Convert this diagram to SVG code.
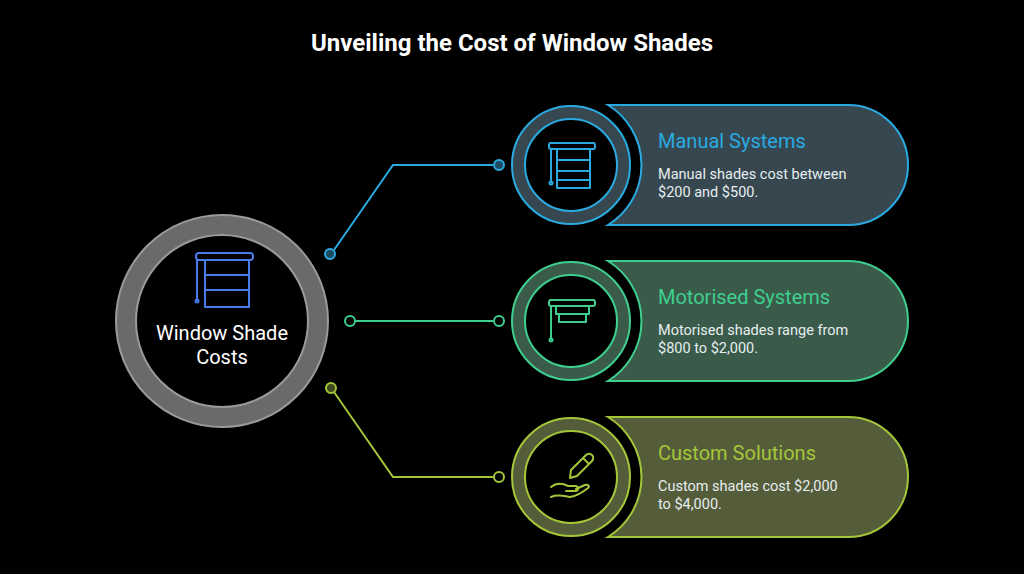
<svg xmlns="http://www.w3.org/2000/svg" width="1024" height="574" viewBox="0 0 1024 574">
<style>
text{font-family:Roboto,"Liberation Sans",sans-serif}
.h{font-size:20px}
.b{font-size:14.5px;fill:#e6eef0}
.ic{fill:none;stroke-width:2;stroke-linecap:round;stroke-linejoin:round}
.c{fill:none;stroke-width:2}
</style>
<rect width="1024" height="574" fill="#000"/>
<text x="512" y="51" text-anchor="middle" font-size="24" font-weight="bold" fill="#fff">Unveiling the Cost of Window Shades</text>
<g id="connectors">
<path class="c" stroke="#29abe2" d="M334 250 L393 165 H493"/>
<circle cx="330" cy="254" r="5" fill="#1d4a5e" stroke="#29abe2" stroke-width="2"/>
<circle cx="499" cy="165" r="5" fill="#1d4a5e" stroke="#29abe2" stroke-width="2"/>
<path class="c" stroke="#3ecf8e" d="M356 321 H493"/>
<circle cx="350" cy="321" r="5" fill="#000" stroke="#3ecf8e" stroke-width="2"/>
<circle cx="499" cy="321" r="5" fill="#000" stroke="#3ecf8e" stroke-width="2"/>
<path class="c" stroke="#a4c639" d="M334 392 L393 477 H493"/>
<circle cx="331" cy="388" r="5" fill="#3e4a1e" stroke="#a4c639" stroke-width="2"/>
<circle cx="499" cy="477" r="5" fill="#000" stroke="#a4c639" stroke-width="2"/>
</g>
<g id="center">
<circle cx="222" cy="321" r="106" fill="#6a6a6a" stroke="#9a9a9a" stroke-width="2"/>
<circle cx="222" cy="321" r="86" fill="#000" stroke="#9a9a9a" stroke-width="2"/>
<g class="ic" stroke="#4a7bea">
<rect x="196" y="253" width="57" height="7" rx="3"/>
<path d="M205 260 V307 H249 V260 M205 275 H249 M205 290 H249 M197 260 V300"/>
<circle cx="197" cy="301" r="1.5"/>
</g>
<text x="222" y="340" text-anchor="middle" font-size="20" fill="#fff">Window Shade</text>
<text x="222" y="364" text-anchor="middle" font-size="20" fill="#fff">Costs</text>
</g>
<g id="manual">
<path d="M608 105 H848 A60 60 0 0 1 848 225 H608 A70.5 70.5 0 0 0 608 105 Z" fill="#37474f" stroke="#29abe2" stroke-width="2"/>
<circle cx="571" cy="165" r="59" fill="#37474f" stroke="#29abe2" stroke-width="2"/>
<circle cx="571" cy="165" r="46" fill="#000" stroke="#29abe2" stroke-width="2"/>
<g class="ic" stroke="#29abe2">
<rect x="549" y="143" width="46" height="6" rx="2"/>
<path d="M557 149 V188 H590 V149 M557 160 H590 M557 171 H590 M557 180 H590 M551 149 V182"/>
<circle cx="551" cy="183" r="1.5"/>
</g>
<text class="h" x="658" y="148" fill="#29abe2">Manual Systems</text>
<text class="b" x="658" y="179">Manual shades cost between</text>
<text class="b" x="658" y="197">$200 and $500.</text>
</g>
<g id="motorised">
<path d="M608 261 H848 A60 60 0 0 1 848 381 H608 A70.5 70.5 0 0 0 608 261 Z" fill="#3a5a4a" stroke="#3ecf8e" stroke-width="2"/>
<circle cx="571" cy="321" r="59" fill="#3a5a4a" stroke="#3ecf8e" stroke-width="2"/>
<circle cx="571" cy="321" r="46" fill="#000" stroke="#3ecf8e" stroke-width="2"/>
<g class="ic" stroke="#3ecf8e">
<rect x="549" y="300" width="46" height="6" rx="2"/>
<path d="M556 306 V314 H589 V306 M559 314 V322 H586 V314 M551 306 V339"/>
<circle cx="551" cy="340" r="1.5"/>
</g>
<text class="h" x="658" y="304" fill="#3ecf8e">Motorised Systems</text>
<text class="b" x="658" y="335">Motorised shades range from</text>
<text class="b" x="658" y="353">$800 to $2,000.</text>
</g>
<g id="custom">
<path d="M608 417 H848 A60 60 0 0 1 848 537 H608 A70.5 70.5 0 0 0 608 417 Z" fill="#545c3a" stroke="#a4c639" stroke-width="2"/>
<circle cx="571" cy="477" r="59" fill="#545c3a" stroke="#a4c639" stroke-width="2"/>
<circle cx="571" cy="477" r="46" fill="#000" stroke="#a4c639" stroke-width="2"/>
<g class="ic" stroke="#a4c639">
<path d="M570 478 L571 470 L586 455 A3 3 0 0 1 592 461 L577 476 Z M583 458 L589 464"/>
<path d="M551 487 C556 483 562 483 568 486 L576 486 C579 487 579 490 576 491 L566 491 M551 497 C558 494 563 496 570 497 C577 496 583 492 588 488 C590 486 588 484 585 485 L576 489"/>
</g>
<text class="h" x="658" y="460" fill="#a4c639">Custom Solutions</text>
<text class="b" x="658" y="491">Custom shades cost $2,000</text>
<text class="b" x="658" y="509">to $4,000.</text>
</g>
</svg>
